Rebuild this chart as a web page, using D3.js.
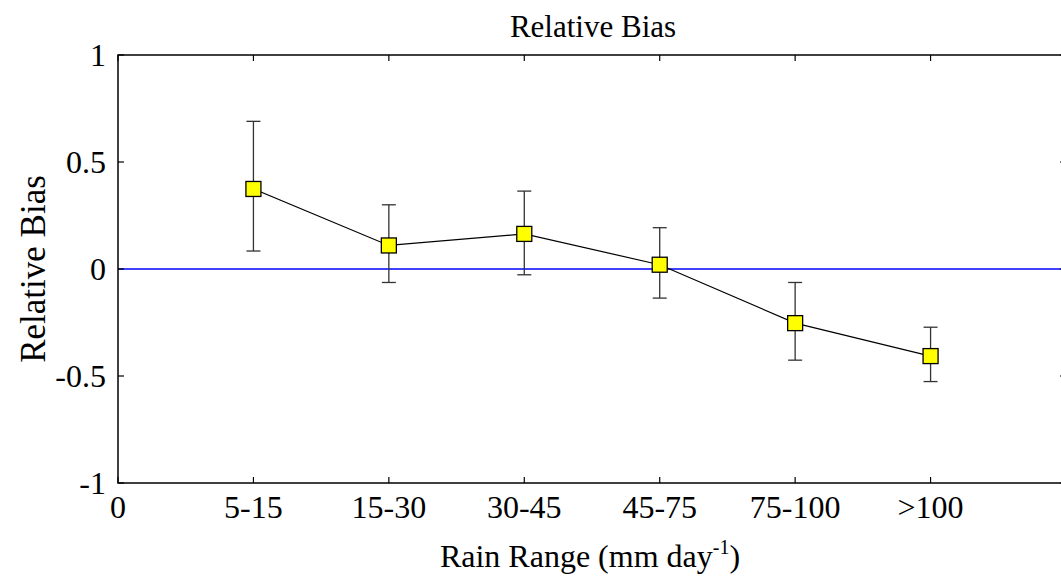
<!DOCTYPE html>
<html>
<head>
<meta charset="utf-8">
<script src="https://d3js.org/d3.v7.min.js"></script>
<style>
  body { margin: 0; background: #fff; }
  svg text { font-family: "Liberation Serif", "Times New Roman", serif; }
</style>
</head>
<body>
<div id="chart"></div>
<script>
// Relative bias by rain range, with error bars

const categories = ["5-15", "15-30", "30-45", "45-75", "75-100", ">100"];
const bias  = [0.374, 0.110, 0.164, 0.020, -0.253, -0.407];
const upper = [0.690, 0.300, 0.364, 0.193, -0.063, -0.272];
const lower = [0.084, -0.063, -0.027, -0.136, -0.426, -0.526];
const yTicks = [-1, -0.5, 0, 0.5, 1];
const xTickLabels = ["0"].concat(categories);

const width = 1061, height = 578;
const margin = {top: 55, right: -5, bottom: 95, left: 118};

const svg = d3.select("#chart").append("svg")
  .attr("width", width)
  .attr("height", height);

const x = d3.scaleLinear().domain([0, 7]).range([margin.left, width - margin.right]);
const y = d3.scaleLinear().domain([-1, 1]).range([height - margin.bottom, margin.top]);

const pts = categories.map((c, i) => ({cat: c, pos: i + 1, v: bias[i], hi: upper[i], lo: lower[i]}));

const fs = 32;
const tickLen = 6;

// zero reference line
svg.append("line")
  .attr("x1", x(0)).attr("x2", x(7))
  .attr("y1", y(0)).attr("y2", y(0))
  .attr("stroke", "#0000ff")
  .attr("stroke-width", 1.3);

// box
const x0 = x(0), x1 = x(7), y0 = y(-1), y1 = y(1);
svg.append("rect")
  .attr("x", x0).attr("y", y1)
  .attr("width", x1 - x0).attr("height", y0 - y1)
  .attr("fill", "none")
  .attr("stroke", "#000")
  .attr("stroke-width", 1.5);

// inward ticks on all four sides
const xTickPos = d3.range(0, 7);
const ticks = svg.append("g").attr("stroke", "#000").attr("stroke-width", 1.2);
xTickPos.forEach(t => {
  ticks.append("line").attr("x1", x(t)).attr("x2", x(t)).attr("y1", y0).attr("y2", y0 - tickLen);
  ticks.append("line").attr("x1", x(t)).attr("x2", x(t)).attr("y1", y1).attr("y2", y1 + tickLen);
});
yTicks.forEach(t => {
  ticks.append("line").attr("x1", x0).attr("x2", x0 + tickLen).attr("y1", y(t)).attr("y2", y(t));
  ticks.append("line").attr("x1", x1).attr("x2", x1 - tickLen).attr("y1", y(t)).attr("y2", y(t));
});

// tick labels (plain hyphen minus like the original)
svg.append("g").selectAll("text")
  .data(yTicks)
  .join("text")
  .attr("x", x0 - 12)
  .attr("y", d => y(d))
  .attr("dy", "0.35em")
  .attr("text-anchor", "end")
  .attr("font-size", fs)
  .text(d => String(d));

svg.append("g").selectAll("text")
  .data(xTickLabels)
  .join("text")
  .attr("x", (d, i) => x(i))
  .attr("y", y0 + 35)
  .attr("text-anchor", "middle")
  .attr("font-size", fs)
  .text(d => d);

// error bars
const capW = 7;
const eb = svg.append("g").attr("stroke", "#333").attr("stroke-width", 1.3);
pts.forEach(d => {
  eb.append("line").attr("x1", x(d.pos)).attr("x2", x(d.pos)).attr("y1", y(d.hi)).attr("y2", y(d.lo));
  eb.append("line").attr("x1", x(d.pos) - capW).attr("x2", x(d.pos) + capW).attr("y1", y(d.hi)).attr("y2", y(d.hi));
  eb.append("line").attr("x1", x(d.pos) - capW).attr("x2", x(d.pos) + capW).attr("y1", y(d.lo)).attr("y2", y(d.lo));
});

// connecting line
svg.append("path")
  .datum(pts)
  .attr("fill", "none")
  .attr("stroke", "#000")
  .attr("stroke-width", 1.2)
  .attr("d", d3.line().x(d => x(d.pos)).y(d => y(d.v)));

// square markers
const ms = 15;
svg.append("g").selectAll("rect")
  .data(pts)
  .join("rect")
  .attr("x", d => x(d.pos) - ms / 2)
  .attr("y", d => y(d.v) - ms / 2)
  .attr("width", ms)
  .attr("height", ms)
  .attr("fill", "#ffff00")
  .attr("stroke", "#000")
  .attr("stroke-width", 1.3);

// title
svg.append("text")
  .attr("x", 593)
  .attr("y", 37)
  .attr("text-anchor", "middle")
  .attr("font-size", 31)
  .text("Relative Bias");

// x label with superscript
const xl = svg.append("text")
  .attr("x", 590)
  .attr("y", 567)
  .attr("text-anchor", "middle")
  .attr("font-size", 32);
xl.append("tspan").text("Rain Range (mm day");
xl.append("tspan").attr("dy", -13).attr("font-size", 20).text("-1");
xl.append("tspan").attr("dy", 13).text(")");

// y label
svg.append("text")
  .attr("transform", `translate(45,${y(0)}) rotate(-90)`)
  .attr("text-anchor", "middle")
  .attr("font-size", 35)
  .text("Relative Bias");
</script>
</body>
</html>
